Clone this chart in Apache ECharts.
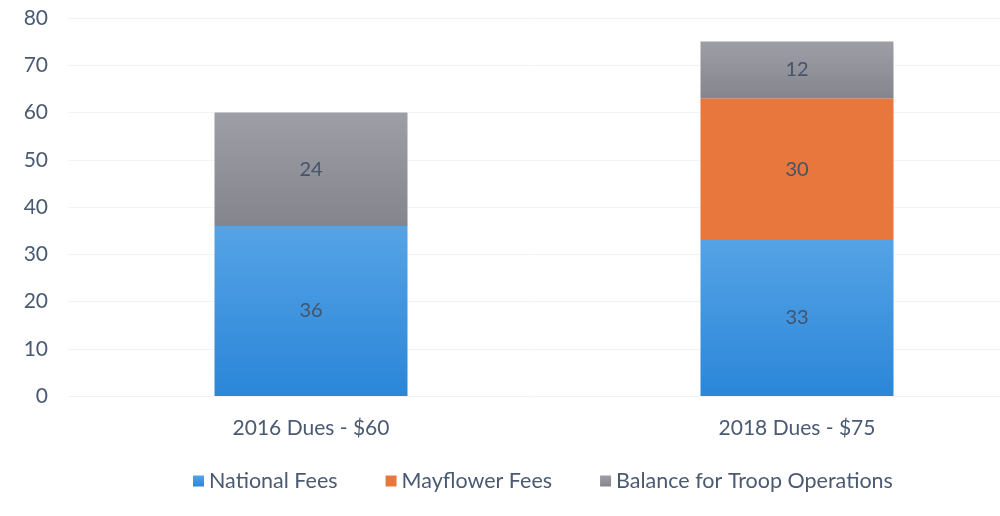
<!DOCTYPE html>
<html>
  <head>
    <meta charset="UTF-8" />
    <title>Troop Dues</title>
    <script src="https://cdn.jsdelivr.net/npm/echarts@6.0.0/dist/echarts.min.js"></script>
  </head>
  <body style="margin:0">
    <div id="duesChart" style="width: 1000px; height: 516px"></div>
  </body>
  <script>
    const categories = ['2016 Dues - $60', '2018 Dues - $75'];
    const nationalFees = [36, 33];
    const mayflowerFees = [null, 30];
    const troopBalance = [24, 12];
    const yTicks = { min: 0, max: 80, interval: 10 };

    let myChart = echarts.init(document.getElementById('duesChart'));

    const font = 'Lato, "Open Sans", sans-serif';
    const textColor = '#4a5a72';

    function grad(top, bottom) {
      return new echarts.graphic.LinearGradient(0, 0, 0, 1, [
        { offset: 0, color: top },
        { offset: 1, color: bottom }
      ]);
    }

    const labelStyle = {
      show: true,
      position: 'inside',
      color: '#44546a',
      fontSize: 20,
      fontFamily: font
    };

    myChart.setOption({
      animation: false,
      // the category band runs past the right edge in the original
      grid: { left: 68, right: -40, top: 18, bottom: 120, outerBoundsMode: 'none' },
      legend: {
        bottom: 19,
        left: 188,
        itemWidth: 11,
        itemHeight: 11,
        itemGap: 48,
        icon: 'rect',
        textStyle: { color: textColor, fontSize: 21.5, fontFamily: font }
      },
      xAxis: {
        type: 'category',
        data: categories,
        axisLine: { show: false },
        axisTick: { show: false },
        axisLabel: { color: textColor, fontSize: 21, fontFamily: font, margin: 22 }
      },
      yAxis: {
        type: 'value',
        min: yTicks.min,
        max: yTicks.max,
        interval: yTicks.interval,
        axisLabel: { color: textColor, fontSize: 21, fontFamily: font, margin: 20 },
        splitLine: { lineStyle: { color: '#f3f3f5' } }
      },
      series: [
        {
          name: 'National Fees',
          type: 'bar',
          stack: 'dues',
          barWidth: 193,
          data: nationalFees,
          itemStyle: { color: grad('#55a3e6', '#2b86d8') },
          label: labelStyle
        },
        {
          name: 'Mayflower Fees',
          type: 'bar',
          stack: 'dues',
          data: mayflowerFees,
          itemStyle: { color: '#e8773d' },
          label: labelStyle
        },
        {
          name: 'Balance for Troop Operations',
          type: 'bar',
          stack: 'dues',
          data: troopBalance,
          itemStyle: { color: grad('#9e9ea6', '#85858d') },
          label: labelStyle
        }
      ]
    });
  </script>
</html>
